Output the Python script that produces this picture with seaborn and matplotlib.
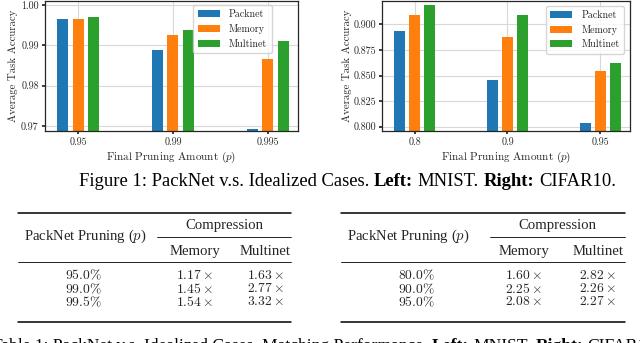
import numpy as np
import pandas as pd
import matplotlib
matplotlib.use("Agg")
import matplotlib.pyplot as plt
import seaborn as sns

# Datos de las barras
methods = ["Packnet", "Memory", "Multinet"]
colors = ["#1f77b4", "#ff7f0e", "#2ca02c"]

mnist_p = ["0.95", "0.99", "0.995"]
mnist_packnet = [0.9964, 0.9887, 0.9691]
mnist_memory = [0.9965, 0.9925, 0.9867]
mnist_multinet = [0.9970, 0.9939, 0.9910]

cifar_p = ["0.8", "0.9", "0.95"]
cifar_packnet = [0.8935, 0.8455, 0.8039]
cifar_memory = [0.9095, 0.8874, 0.8549]
cifar_multinet = [0.9192, 0.9091, 0.8627]

# Datos de las tablas
mnist_rows = ["95.0", "99.0", "99.5"]
mnist_mem = ["1.17", "1.45", "1.54"]
mnist_multi = ["1.63", "2.77", "3.32"]
cifar_rows = ["80.0", "90.0", "95.0"]
cifar_mem = ["1.60", "2.25", "2.08"]
cifar_multi = ["2.82", "2.26", "2.27"]


def long_df(p, a, b, c):
    rows = []
    for vals, m in zip([a, b, c], methods):
        for pp, v in zip(p, vals):
            rows.append({"p": pp, "acc": v, "method": m})
    return pd.DataFrame(rows)


sns.set_theme(style="whitegrid", rc={
    "axes.edgecolor": "0.15",
    "axes.linewidth": 0.9,
    "grid.color": "#d8d8d8",
    "grid.linewidth": 0.8,
    "xtick.bottom": True,
    "ytick.left": True,
    "xtick.major.size": 2.5,
    "ytick.major.size": 2.5,
    "xtick.color": "0.15",
    "ytick.color": "0.15",
    "axes.labelcolor": "0.15",
})
plt.rcParams["font.family"] = "cmr10"
plt.rcParams["mathtext.fontset"] = "cm"
plt.rcParams["axes.unicode_minus"] = False
plt.rcParams["axes.formatter.use_mathtext"] = True

fig = plt.figure(figsize=(6.4, 3.43), dpi=100)
ax1 = fig.add_axes([0.0703, 0.618, 0.3953, 0.3805])
ax2 = fig.add_axes([0.5970, 0.618, 0.3875, 0.3805])

panels = [
    (ax1, long_df(mnist_p, mnist_packnet, mnist_memory, mnist_multinet),
     (0.9687, 1.0011), [0.97, 0.98, 0.99, 1.00], "%.2f", (0.896, 0.964), -0.107),
    (ax2, long_df(cifar_p, cifar_packnet, cifar_memory, cifar_multinet),
     (0.7958, 0.9234), [0.800, 0.825, 0.850, 0.875, 0.900], "%.3f", (0.976, 0.96), -0.121),
]

for ax, df, ylim, yticks, fmt, leg_anchor, ylab_x in panels:
    sns.barplot(data=df, x="p", y="acc", hue="method", palette=colors,
                width=0.49, gap=0.28, saturation=1, linewidth=0, ax=ax)
    ax.set_axisbelow(True)
    ax.set_ylim(*ylim)
    ax.set_xlim(-0.35, 2.32)
    ax.set_yticks(yticks)
    ax.set_yticklabels([fmt % t for t in yticks])
    ax.tick_params(labelsize=7.2, pad=2)
    ax.grid(True, axis="both")
    ax.set_xlabel("Final Pruning Amount ($p$)", fontsize=8, labelpad=2)
    ax.set_ylabel("Average Task Accuracy", fontsize=7.8)
    ax.yaxis.set_label_coords(ylab_x, 0.5)
    ax.legend(loc="upper right", bbox_to_anchor=leg_anchor, fontsize=7.2,
              handlelength=2.2, handleheight=0.7, handletextpad=0.9,
              frameon=True, framealpha=0.8, edgecolor="#cccccc",
              borderpad=0.45, labelspacing=0.5, borderaxespad=0)

# capa en coordenadas de píxel para el texto y las tablas
ov = fig.add_axes([0, 0, 1, 1], zorder=-1)
ov.set_xlim(0, 640)
ov.set_ylim(343, 0)
ov.axis("off")

serif = "Liberation Serif"
renderer = fig.canvas.get_renderer()


def text_width(s, size):
    t = ov.text(0, 0, s, fontsize=size, family=serif)
    w = t.get_window_extent(renderer=renderer).width
    t.remove()
    return w


def rich_line(x, y, parts, size):
    space = text_width("a a", size) - text_width("aa", size)
    for s, weight in parts:
        t = ov.text(x, y, s, fontsize=size, family=serif, fontweight=weight,
                    va="baseline", ha="left", color="black")
        x += t.get_window_extent(renderer=renderer).width + space


rich_line(79, 185.5, [("Figure 1: PackNet v.s. Idealized Cases.", "normal"),
                      ("Left:", "bold"), ("MNIST.", "normal"),
                      ("Right:", "bold"), ("CIFAR10.", "normal")], 13.4)

rich_line(-8, 350.5, [("Table 1: PackNet v.s. Idealized Cases. Matching Performance.", "normal"),
                      ("Left:", "bold"), ("MNIST.", "normal"),
                      ("Right:", "bold"), ("CIFAR10.", "normal")], 12.6)


def draw_table(x0, x1, xc1, xc2, xc3, xsplit, rows, mem, multi):
    ov.plot([x0, x1], [212.7, 212.7], color="black", lw=1.1)
    ov.plot([xsplit, x1], [237.3, 237.3], color="black", lw=0.6)
    ov.plot([x0, x1], [261.7, 261.7], color="black", lw=0.6)
    ov.plot([x0, x1], [321.7, 321.7], color="black", lw=1.1)
    ov.text(x0 + 6, 236, "PackNet Pruning ($p$)", fontsize=10.6, family=serif,
            ha="left", va="center")
    ov.text((xsplit + x1) / 2, 225, "Compression", fontsize=10.6, family=serif,
            ha="center", va="center")
    ov.text(xc2, 251.5, "Memory", fontsize=10.6, family=serif, ha="center", va="center")
    ov.text(xc3, 251.5, "Multinet", fontsize=10.6, family=serif, ha="center", va="center")
    for i, y in enumerate([275.5, 288.7, 301.9]):
        ov.text(xc1, y, "$" + rows[i] + r"\%$", fontsize=9.8,
                ha="center", va="center")
        ov.text(xc2, y, "$" + mem[i] + r"\times$", fontsize=9.8,
                ha="center", va="center")
        ov.text(xc3, y, "$" + multi[i] + r"\times$", fontsize=9.8,
                ha="center", va="center")


draw_table(18.4, 291, 83.7, 195, 265.3, 157, mnist_rows, mnist_mem, mnist_multi)
draw_table(340.8, 624.5, 416.3, 523.7, 598, 489.8, cifar_rows, cifar_mem, cifar_multi)

fig.savefig("out.png", dpi=100)
